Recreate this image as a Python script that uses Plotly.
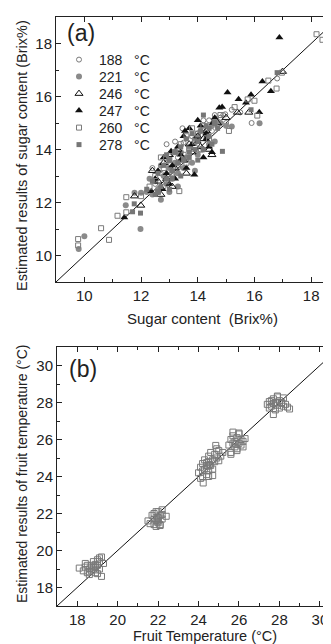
import plotly.graph_objects as go

# The page body has an 8px default margin, so the figure is sized to fill the rest of the window.
W, H = 331, 644
OFF = 8
FW, FH = W - OFF, H - OFF

# ---------------- Panel (a): sugar content ----------------
x188 = [12.5,12.7,12.8,12.9,13.0,13.1,13.2,13.3,13.4,13.5,13.6,13.7,13.8,13.9,14.0,14.1,14.2,14.3,14.4,14.5,14.6,14.7,14.8,15.0,15.2,15.5,15.9,16.8,12.4,13.0,13.46,14.2,13.3,12.9,14.9,14.97]
y188 = [12.7,13.1,12.6,13.5,13.74,13.0,14.3,13.3,13.9,14.26,13.6,14.0,14.5,14.1,14.6,14.0,14.8,14.4,15.1,14.7,15.3,14.9,15.2,15.0,15.5,15.4,15.0,16.68,13.3,12.9,14.8,15.1,13.7,14.2,15.3,15.33]

x221 = [9.8,10.0,11.46,11.98,11.77,12.0,12.2,12.4,12.5,12.6,12.7,12.8,12.9,13.0,13.1,13.2,13.3,13.4,13.5,13.6,13.7,13.8,13.9,14.0,14.1,14.2,14.3,14.4,14.5,14.6,14.8,16.18,12.7,13.3,13.9,12.3,13.0,14.0,15.0,15.2]
y221 = [10.25,10.73,11.9,11.0,12.37,12.37,12.4,12.3,12.8,12.5,12.1,13.0,12.7,13.3,12.9,13.5,13.1,13.9,13.3,13.7,14.1,13.5,14.4,13.8,14.7,14.0,14.6,14.2,14.9,14.3,15.0,14.99,13.4,12.6,13.2,12.9,12.4,14.5,14.9,14.87]

x246 = [11.77,11.99,12.4,12.6,12.8,12.9,13.0,13.2,13.3,13.5,13.7,13.8,14.0,14.1,14.3,14.4,14.5,14.7,15.0,15.4,15.8,16.99,13.1,12.7,14.2,13.6]
y246 = [12.24,11.89,13.2,12.8,13.5,12.9,13.8,13.3,14.0,13.6,14.2,13.9,14.5,14.1,14.7,14.0,13.8,15.0,15.2,15.4,15.4,16.94,12.6,12.3,14.4,13.1]

x247 = [16.88,16.28,16.58,15.88,15.7,15.44,15.05,14.76,14.86,16.17,14.53,11.41,12.36,12.5,12.76,12.8,12.9,13.06,13.1,13.2,13.3,13.4,13.5,13.6,13.7,13.8,13.88,14.0,14.1,14.2,14.3,14.4,14.5,14.6,12.6,13.0,13.4,14.0,13.55,14.3]
y247 = [18.23,16.57,16.2,16.07,15.76,15.9,16.15,15.58,15.6,15.41,15.0,11.43,12.42,12.9,12.5,13.7,13.1,13.93,13.4,12.9,14.1,13.6,14.5,13.3,14.8,14.2,13.05,14.3,14.9,13.7,14.6,14.1,13.9,15.2,13.2,12.7,13.8,15.1,14.7,14.4]

x260 = [18.19,18.4,16.97,16.78,16.49,16.0,16.1,11.48,11.48,11.17,10.59,10.87,9.78,9.78,12.0,13.35,15.76,12.3,12.5,12.6,12.8,12.9,13.0,13.1,13.2,13.3,13.4,13.5,13.6,13.7,13.8,13.9,14.0,14.2,14.4,14.6,14.8,15.1,15.3,12.7,13.6,14.1]
y260 = [18.35,18.14,16.9,16.3,16.6,15.84,15.28,12.2,11.63,11.5,11.03,10.59,10.62,10.38,12.24,12.43,15.89,12.6,13.0,12.4,13.3,12.8,13.6,13.1,13.9,13.4,14.2,13.8,14.5,14.0,14.8,14.3,14.6,14.9,14.4,15.0,15.3,14.7,15.6,13.7,13.5,14.0]

x278 = [16.8,11.98,11.76,11.7,14.87,15.88,12.2,12.4,12.5,12.6,12.7,12.8,12.9,13.0,13.1,13.2,13.3,13.4,13.5,13.6,13.7,13.8,13.9,14.0,14.1,14.2,14.3,14.4,14.5,14.6,14.7,12.6,13.1,13.7,14.2,12.9,13.4,14.0,14.4,13.0]
y278 = [16.9,11.6,11.95,11.65,13.93,15.5,12.5,12.8,12.3,13.1,12.6,13.4,12.9,13.6,13.2,13.9,13.5,14.1,13.6,14.4,13.9,14.6,14.0,14.3,14.7,14.0,14.9,14.5,14.2,15.0,14.8,12.4,12.9,13.7,15.3,13.8,13.0,13.6,14.8,12.5]

legend_labels_a = ["188\u00a0\u00a0\u00a0°C", "221\u00a0\u00a0\u00a0°C", "246\u00a0\u00a0\u00a0°C",
                   "247\u00a0\u00a0\u00a0°C", "260\u00a0\u00a0\u00a0°C", "278\u00a0\u00a0\u00a0°C"]
identity_a = [9, 19]
xticks_a = [10, 12, 14, 16, 18]
yticks_a = [10, 12, 14, 16, 18]

# ---------------- Panel (b): fruit temperature ----------------
xb = [18.1,18.3,18.4,18.5,18.5,18.6,18.6,18.7,18.7,18.8,18.8,18.9,18.9,19.0,19.0,19.1,19.1,19.2,19.3,18.4,18.7,18.9,19.2,18.6,19.0,19.1,18.8,18.9,
      21.5,21.7,21.8,21.8,21.9,21.9,22.0,22.0,22.0,22.1,22.1,22.2,22.2,22.4,21.6,21.9,22.0,22.1,21.8,22.2,22.0,21.95,
      24.0,24.1,24.2,24.2,24.3,24.3,24.4,24.4,24.5,24.5,24.5,24.6,24.6,24.7,24.7,24.8,24.8,24.9,25.0,25.1,25.2,24.23,24.5,24.85,24.2,24.9,24.4,24.1,24.7,25.0,24.45,24.55,
      25.5,25.6,25.6,25.7,25.7,25.8,25.8,25.9,25.9,26.0,26.0,26.1,26.1,26.2,26.3,25.6,25.9,26.0,25.7,26.2,25.85,
      27.4,27.5,27.6,27.6,27.7,27.7,27.8,27.8,27.9,27.9,28.0,28.0,28.1,28.2,28.3,28.4,28.5,27.7,27.9,28.1,27.5,28.2,27.85]
yb = [19.05,18.9,19.1,18.8,19.2,19.0,18.7,19.2,18.9,19.4,19.0,19.1,18.8,19.5,19.2,19.6,19.0,18.6,19.3,19.3,19.1,18.95,19.65,18.85,18.75,19.4,19.15,19.25,
      21.6,21.9,21.4,22.0,21.7,21.3,21.8,22.1,21.5,21.9,21.4,22.2,21.7,21.85,21.45,22.1,21.6,21.35,21.7,21.95,21.75,21.55,
      24.2,24.5,24.0,24.7,24.4,24.9,24.6,24.1,24.8,25.1,24.3,24.6,25.3,24.9,24.4,25.2,24.8,25.0,25.4,25.1,25.3,23.65,24.0,25.68,24.3,25.5,24.75,23.9,24.05,24.85,24.55,24.65,
      25.7,26.0,25.3,25.8,26.2,25.6,25.9,26.1,25.5,25.8,26.3,25.7,26.0,25.9,26.05,25.2,25.4,26.35,26.4,25.6,25.75,
      27.9,27.7,28.1,27.8,27.95,28.2,27.6,28.0,28.3,27.85,28.1,27.7,28.0,28.25,27.9,27.75,27.65,27.35,28.35,27.95,28.05,27.8,28.0]
identity_b = [17, 31]
xticks_b = [18, 20, 22, 24, 26, 28, 30]
yticks_b = [18, 20, 22, 24, 26, 28, 30]

FONT = "Liberation Sans"
TXT = "#222222"
GRAY = "#7a7a7a"

fig = go.Figure()

fig.add_trace(go.Scatter(x=identity_a, y=identity_a, mode="lines", line=dict(color="#111", width=1),
                         showlegend=False, hoverinfo="skip", xaxis="x", yaxis="y"))
series_a = [
    (x188, y188, dict(symbol="circle-open", size=5, color=GRAY, line=dict(width=1, color=GRAY))),
    (x221, y221, dict(symbol="circle", size=6, color="#8a8a8a", line=dict(width=0))),
    (x246, y246, dict(symbol="triangle-up-open", size=7, color="#111", line=dict(width=1, color="#111"))),
    (x247, y247, dict(symbol="triangle-up", size=7, color="#111", line=dict(width=0))),
    (x260, y260, dict(symbol="square-open", size=5, color=GRAY, line=dict(width=1, color=GRAY))),
    (x278, y278, dict(symbol="square", size=5, color="#767676", line=dict(width=0))),
]
legend_names = ["legend", "legend2", "legend3", "legend4", "legend5", "legend6"]
for (xs, ys, mk), lab, lg in zip(series_a, legend_labels_a, legend_names):
    fig.add_trace(go.Scatter(x=xs, y=ys, mode="markers", marker=mk, name=lab, legend=lg,
                             xaxis="x", yaxis="y", cliponaxis=True))

fig.add_trace(go.Scatter(x=identity_b, y=identity_b, mode="lines", line=dict(color="#111", width=1),
                         showlegend=False, hoverinfo="skip", xaxis="x2", yaxis="y2"))
fig.add_trace(go.Scatter(x=xb, y=yb, mode="markers", showlegend=False, xaxis="x2", yaxis="y2",
                         marker=dict(symbol="square-open", size=6, color=GRAY, line=dict(width=1, color=GRAY))))

def px_x(p):
    return (p - OFF) / FW

def px_y(p):
    return 1 - (p - OFF) / FH

axis_common = dict(showline=True, linecolor="#222", linewidth=1, ticks="inside", ticklen=5, tickwidth=1,
                   tickcolor="#222", showgrid=False, zeroline=False, automargin=False,
                   tickfont=dict(family=FONT, size=15, color=TXT),
                   minor=dict(ticks="inside", ticklen=3, tickwidth=1, tickcolor="#222", dtick=1, showgrid=False))

fig.update_layout(
    width=FW, height=FH, margin=dict(l=0, r=0, t=0, b=0),
    paper_bgcolor="white", plot_bgcolor="white",
    font=dict(family=FONT, size=14, color=TXT),
    xaxis=dict(domain=[px_x(56), 1], range=[9, 18.7], tickvals=xticks_a, mirror="ticks", anchor="y", **axis_common),
    yaxis=dict(domain=[px_y(282), px_y(17)], range=[9, 19], tickvals=yticks_a, mirror=False, anchor="x", **axis_common),
    xaxis2=dict(domain=[px_x(57), 1], range=[17, 30.55], tickvals=xticks_b, mirror="ticks", anchor="y2", **axis_common),
    yaxis2=dict(domain=[px_y(606), px_y(347)], range=[17, 31], tickvals=yticks_b, mirror=False, anchor="x2", **axis_common),
)

leg_rows = [60, 77, 94, 111, 128, 145]
for lg, row in zip(legend_names, leg_rows):
    fig.update_layout({lg: dict(x=px_x(59), y=px_y(row), xanchor="left", yanchor="middle",
                                bgcolor="rgba(0,0,0,0)", borderwidth=0,
                                font=dict(family=FONT, size=14, color=TXT))})

ann = [
    dict(text="(a)", x=px_x(65), y=px_y(33), xanchor="left", yanchor="middle", font=dict(size=23)),
    dict(text="(b)", x=px_x(67), y=px_y(369), xanchor="left", yanchor="middle", font=dict(size=23)),
    dict(text="Estimated results of sugar content (Brix%)", x=px_x(22), y=px_y(156), textangle=-90,
         xanchor="center", yanchor="middle", font=dict(size=14.5)),
    dict(text="Sugar content\u00a0\u00a0(Brix%)", x=px_x(202), y=px_y(319), xanchor="center", yanchor="middle",
         font=dict(size=15)),
    dict(text="Estimated results of fruit temperature (°C)", x=px_x(22), y=px_y(474), textangle=-90,
         xanchor="center", yanchor="middle", font=dict(size=14)),
    dict(text="Fruit Temperature (°C)", x=px_x(205), y=px_y(636), xanchor="center", yanchor="middle",
         font=dict(size=14.5)),
]
for a in ann:
    a.update(xref="paper", yref="paper", showarrow=False)
    a["font"] = dict(family=FONT, color=TXT, **a["font"])
fig.update_layout(annotations=ann)

fig.write_html("out.html")
